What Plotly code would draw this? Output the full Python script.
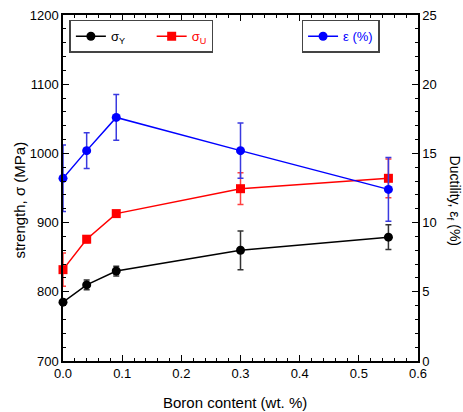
import plotly.graph_objects as go

boron = [0.0, 0.04, 0.09, 0.30, 0.55]
sigma_y = [785, 810, 830, 860, 879]
sigma_y_err = [4, 7, 7, 28, 18]
sigma_u = [832, 876, 913, 949, 964]
sigma_u_err = [24, 5, 4, 23, 28]
eps = [13.2, 15.2, 17.6, 15.2, 12.4]
eps_err = [2.4, 1.3, 1.65, 2.0, 2.3]

FONT = "Liberation Sans, Arial, sans-serif"

fig = go.Figure()
fig.add_trace(go.Scatter(
    x=boron, y=sigma_y, mode="lines+markers",
    name="σ<sub>Y</sub>" + "&nbsp;" * 6,
    line=dict(color="black", width=1.5),
    marker=dict(symbol="circle", size=9, color="black"),
    error_y=dict(type="data", array=sigma_y_err, color="#333", thickness=1.5, width=3),
    cliponaxis=False, legend="legend"))
fig.add_trace(go.Scatter(
    x=boron, y=sigma_u, mode="lines+markers",
    name='<span style="color:red">σ<sub>U</sub></span>',
    line=dict(color="red", width=1.5),
    marker=dict(symbol="square", size=9, color="red"),
    error_y=dict(type="data", array=sigma_u_err, color="#ff4040", thickness=1.5, width=3),
    cliponaxis=False, legend="legend"))
fig.add_trace(go.Scatter(
    x=boron, y=eps, mode="lines+markers",
    name='<span style="color:blue">ε (%)</span>',
    line=dict(color="blue", width=1.5),
    marker=dict(symbol="circle", size=9, color="blue"),
    error_y=dict(type="data", array=eps_err, color="#3a3ae0", thickness=1.5, width=3),
    cliponaxis=False, yaxis="y2", legend="legend2"))

axis_common = dict(showgrid=False, zeroline=False, showline=True, linecolor="black",
                   linewidth=1.5, ticks="inside", ticklen=6, tickwidth=1.2,
                   tickcolor="black", automargin=False,
                   tickfont=dict(family=FONT, size=13, color="black"))

fig.update_layout(
    width=463, height=412,
    margin=dict(l=63, r=45, t=15, b=51, autoexpand=False),
    paper_bgcolor="white", plot_bgcolor="white",
    font=dict(family=FONT, size=13, color="black"),
    xaxis=dict(range=[0, 0.6], dtick=0.1, tickformat=".1f", mirror="ticks",
               minor=dict(dtick=0.02, ticks="inside", ticklen=3, tickcolor="black", tickwidth=1),
               **axis_common),
    yaxis=dict(range=[700, 1200], dtick=100, mirror=True,
               minor=dict(dtick=20, ticks="inside", ticklen=3, tickcolor="black", tickwidth=1),
               **axis_common),
    yaxis2=dict(range=[0, 25], dtick=5, overlaying="y", side="right",
                minor=dict(dtick=1, ticks="inside", ticklen=3, tickcolor="black", tickwidth=1),
                **axis_common),
    legend=dict(x=0.018, y=0.986, xanchor="left", yanchor="top", orientation="h",
                bordercolor="#444", borderwidth=1.5, bgcolor="white",
                itemwidth=30,
                font=dict(family=FONT, size=13, color="black")),
    legend2=dict(x=0.672, y=0.986, xanchor="left", yanchor="top", orientation="h",
                 bordercolor="#444", borderwidth=1.5, bgcolor="white",
                 itemwidth=30,
                 font=dict(family=FONT, size=13, color="blue")),
    annotations=[
        dict(text="strength, σ (MPa)", x=-0.1225, y=0.465, xref="paper", yref="paper",
             textangle=-90, showarrow=False, xanchor="center", yanchor="middle",
             font=dict(family=FONT, size=15, color="black")),
        dict(text="Ductility, ε<sub>f</sub> (%)", x=1.1, y=0.465, xref="paper", yref="paper",
             textangle=90, showarrow=False, xanchor="center", yanchor="middle",
             font=dict(family=FONT, size=14, color="black")),
        dict(text="Boron content (wt. %)", x=0.485, y=-0.121, xref="paper", yref="paper",
             showarrow=False, xanchor="center", yanchor="middle",
             font=dict(family=FONT, size=15, color="black")),
    ],
)

fig.write_html("out.html", config={"displayModeBar": False},
               post_script="document.body.style.margin='0';")
